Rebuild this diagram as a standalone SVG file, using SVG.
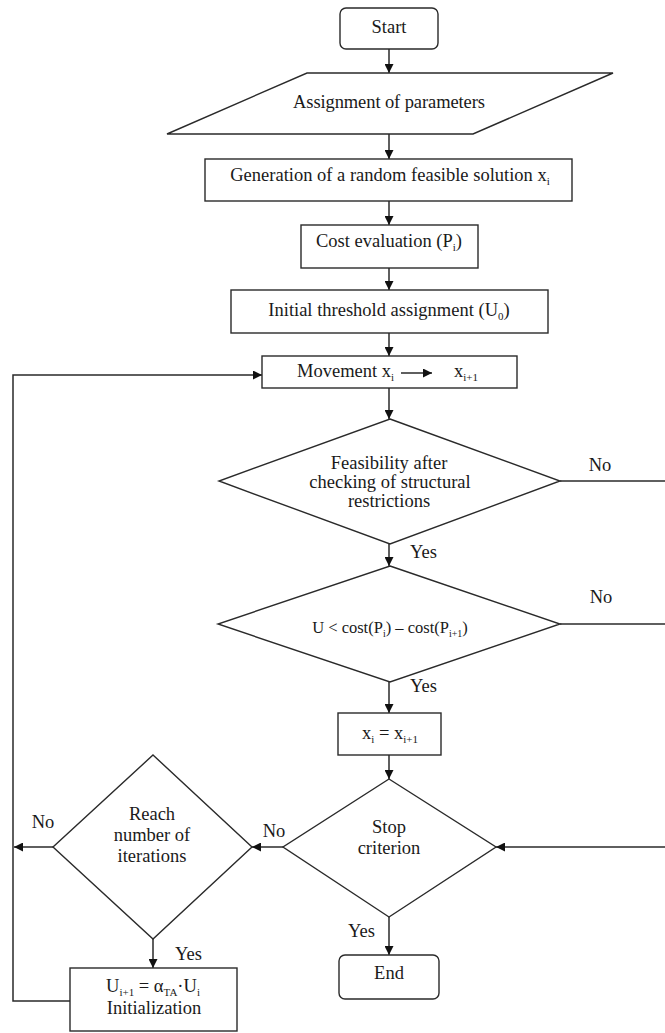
<svg xmlns="http://www.w3.org/2000/svg" width="665" height="1033" viewBox="0 0 665 1033">
<style>
  .shape { fill: #ffffff; stroke: #2a2a2a; stroke-width: 1.4; }
  .conn { fill: none; stroke: #2a2a2a; stroke-width: 1.5; }
  text { font-family: "Liberation Serif", "Times New Roman", serif; font-size: 18.5px; fill: #1a1a1a; }
  .c { text-anchor: middle; }
  .sub { font-size: 11px; }
</style>
<defs>
  <marker id="arr" viewBox="0 0 10 10" refX="10" refY="5" markerWidth="9" markerHeight="9" markerUnits="userSpaceOnUse" orient="auto">
    <path d="M0,0 L10,5 L0,10 z" fill="#111"/>
  </marker>
</defs>
<rect width="665" height="1033" fill="#ffffff"/>

<g id="connectors">
  <line class="conn" x1="389" y1="49" x2="389" y2="73" marker-end="url(#arr)"/>
  <line class="conn" x1="389" y1="134" x2="389" y2="159" marker-end="url(#arr)"/>
  <line class="conn" x1="389" y1="201" x2="389" y2="225" marker-end="url(#arr)"/>
  <line class="conn" x1="389" y1="268" x2="389" y2="290" marker-end="url(#arr)"/>
  <line class="conn" x1="389" y1="333" x2="389" y2="356" marker-end="url(#arr)"/>
  <line class="conn" x1="389" y1="388" x2="389" y2="419" marker-end="url(#arr)"/>
  <line class="conn" x1="389" y1="544" x2="389" y2="566" marker-end="url(#arr)"/>
  <line class="conn" x1="389" y1="682" x2="389" y2="713" marker-end="url(#arr)"/>
  <line class="conn" x1="389" y1="755" x2="389" y2="779" marker-end="url(#arr)"/>
  <line class="conn" x1="389" y1="917" x2="389" y2="955" marker-end="url(#arr)"/>
  <line class="conn" x1="560" y1="481" x2="665" y2="481"/>
  <line class="conn" x1="560" y1="624" x2="665" y2="624"/>
  <line class="conn" x1="665" y1="847" x2="496" y2="847" marker-end="url(#arr)"/>
  <line class="conn" x1="283" y1="847" x2="252" y2="847" marker-end="url(#arr)"/>
  <line class="conn" x1="53" y1="847" x2="14" y2="847" marker-end="url(#arr)"/>
  <line class="conn" x1="153" y1="939" x2="153" y2="968" marker-end="url(#arr)"/>
  <polyline class="conn" points="70,1001 13,1001 13,375 262,375" marker-end="url(#arr)"/>
  <text x="600" y="471" class="c">No</text>
  <text x="410" y="558">Yes</text>
  <text x="601" y="603" class="c">No</text>
  <text x="410" y="692">Yes</text>
  <text x="274" y="837" class="c">No</text>
  <text x="43" y="828" class="c">No</text>
  <text x="175" y="960">Yes</text>
  <text x="348" y="937">Yes</text>
</g>

<g id="start">
  <rect class="shape" x="340" y="8" width="98" height="41" rx="6"/>
  <text x="389" y="33" class="c">Start</text>
</g>

<g id="assign-params">
  <polygon class="shape" points="307,73 613,73 473,134 167,134"/>
  <text x="389" y="108" class="c" textLength="192">Assignment of parameters</text>
</g>

<g id="generation">
  <rect class="shape" x="205" y="159" width="367" height="42"/>
  <text x="390" y="181" class="c">Generation of a random feasible solution x<tspan class="sub" dy="4">i</tspan></text>
</g>

<g id="cost">
  <rect class="shape" x="301" y="225" width="177" height="43"/>
  <text x="389" y="247" class="c">Cost evaluation (P<tspan class="sub" dy="4">i</tspan><tspan dy="-4">)</tspan></text>
</g>

<g id="initial-threshold">
  <rect class="shape" x="231" y="290" width="317" height="43"/>
  <text x="389" y="316" class="c">Initial threshold assignment (U<tspan class="sub" dy="4">0</tspan><tspan dy="-4">)</tspan></text>
</g>

<g id="movement">
  <rect class="shape" x="262" y="356" width="255" height="32"/>
  <text x="297" y="377">Movement x<tspan class="sub" dy="4">i</tspan></text>
  <line class="conn" x1="401" y1="373" x2="432" y2="373" stroke-width="2" marker-end="url(#arr)"/>
  <text x="454" y="377">x<tspan class="sub" dy="4">i+1</tspan></text>
</g>

<g id="feasibility">
  <polygon class="shape" points="390,419 560,481 390,544 219,481"/>
  <text x="389" y="469" class="c">Feasibility after</text>
  <text x="390" y="488" class="c">checking of structural</text>
  <text x="389" y="507" class="c">restrictions</text>
</g>

<g id="threshold-check">
  <polygon class="shape" points="390,566 560,624 390,682 218,624"/>
  <text x="390" y="633" class="c" style="font-size:16.5px">U &lt; cost(P<tspan class="sub" dy="4" style="font-size:10px">i</tspan><tspan dy="-4">) – cost(P</tspan><tspan class="sub" dy="4" style="font-size:10px">i+1</tspan><tspan dy="-4">)</tspan></text>
</g>

<g id="update">
  <rect class="shape" x="338" y="713" width="103" height="42"/>
  <text x="390" y="739" class="c">x<tspan class="sub" dy="4">i</tspan><tspan dy="-4"> = x</tspan><tspan class="sub" dy="4">i+1</tspan></text>
</g>

<g id="stop">
  <polygon class="shape" points="389,779 496,847 389,917 283,847"/>
  <text x="389" y="833" class="c">Stop</text>
  <text x="389" y="854" class="c">criterion</text>
</g>

<g id="end">
  <rect class="shape" x="339" y="955" width="100" height="44" rx="6"/>
  <text x="389" y="979" class="c">End</text>
</g>

<g id="reach">
  <polygon class="shape" points="153,755 252,847 153,939 53,847"/>
  <text x="152" y="820" class="c">Reach</text>
  <text x="152" y="841" class="c">number of</text>
  <text x="152" y="862" class="c">iterations</text>
</g>

<g id="threshold-update">
  <rect class="shape" x="70" y="968" width="167" height="63"/>
  <text x="153" y="992" class="c">U<tspan class="sub" dy="4">i+1</tspan><tspan dy="-4"> = α</tspan><tspan class="sub" dy="4">TA</tspan><tspan dy="-4">·U</tspan><tspan class="sub" dy="4">i</tspan></text>
  <text x="154" y="1014" class="c">Initialization</text>
</g>
</svg>
